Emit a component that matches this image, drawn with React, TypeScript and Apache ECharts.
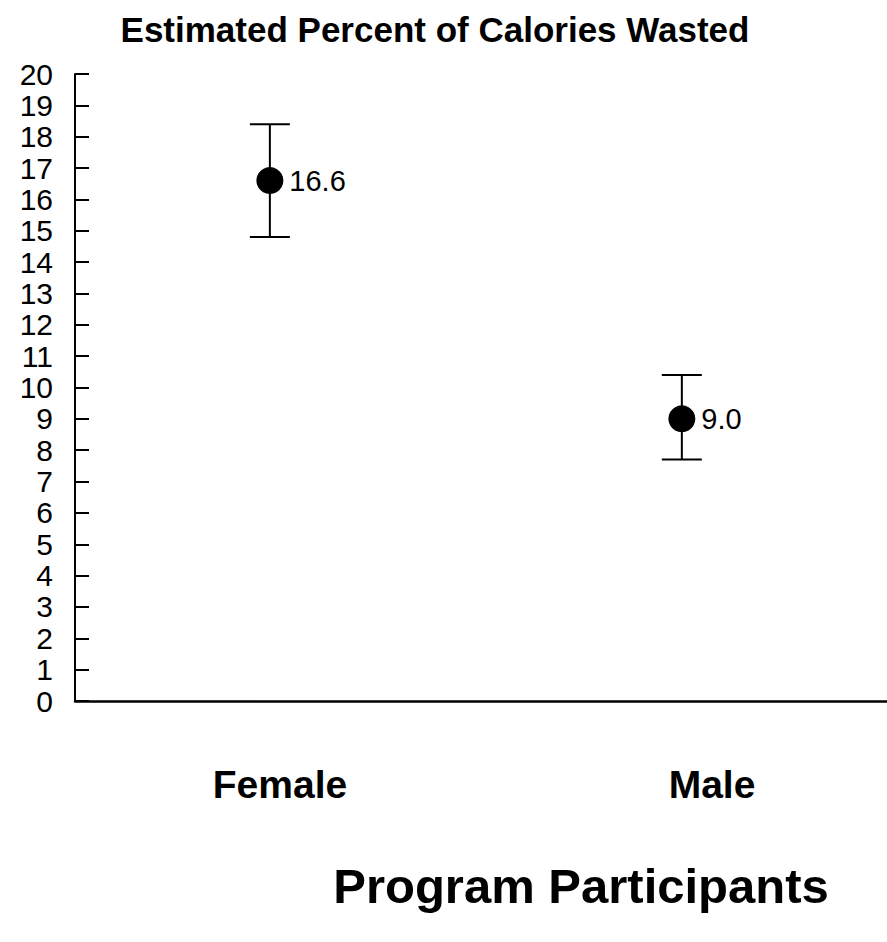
import React, { useEffect, useRef } from "react";
import * as echarts from "echarts";

// Group labels and the estimated percent of calories wasted, with interval bounds
const categories = ["Female", "Male"];
const means = [16.6, 9.0];
const upperBounds = [18.4, 10.4];
const lowerBounds = [14.8, 7.7];

const FONT = "'Liberation Sans', Arial, Helvetica, sans-serif";

export default function App() {
  const ref = useRef<HTMLDivElement>(null);

  useEffect(() => {
    if (!ref.current) return;
    const chart = echarts.init(ref.current, undefined, { renderer: "svg" });

    const pointData = means.map((v, i) => [i, v]);
    const barData = categories.map((_, i) => [i, lowerBounds[i], upperBounds[i]]);

    chart.setOption({
      animation: false,
      backgroundColor: "#ffffff",
      textStyle: { fontFamily: FONT, color: "#000" },
      grid: { left: 75, right: 0, top: 74, bottom: 241, containLabel: false },
      xAxis: {
        type: "value",
        min: -0.473,
        max: 1.498,
        axisLine: { show: true, onZero: false, lineStyle: { color: "#000", width: 2.5 } },
        axisTick: { show: false },
        axisLabel: { show: false },
        splitLine: { show: false },
      },
      yAxis: {
        type: "value",
        min: 0,
        max: 20,
        interval: 1,
        axisLine: { show: true, onZero: false, lineStyle: { color: "#000", width: 2 } },
        axisTick: {
          show: true,
          inside: true,
          length: 14,
          lineStyle: { color: "#000", width: 2 },
        },
        axisLabel: {
          color: "#000",
          fontSize: 30,
          lineHeight: 28,
          fontFamily: FONT,
          margin: 22,
          showMinLabel: true,
          showMaxLabel: true,
          hideOverlap: false,
        },
        splitLine: { show: false },
      },
      series: [
        {
          type: "custom",
          data: barData,
          z: 2,
          renderItem: (params: any, api: any) => {
            const x = api.value(0);
            const lo = api.coord([x, api.value(1)]);
            const hi = api.coord([x, api.value(2)]);
            const half = 20;
            const style = { stroke: "#000", lineWidth: 2 };
            return {
              type: "group",
              children: [
                { type: "line", shape: { x1: lo[0], y1: lo[1], x2: hi[0], y2: hi[1] }, style },
                { type: "line", shape: { x1: hi[0] - half, y1: hi[1], x2: hi[0] + half, y2: hi[1] }, style },
                { type: "line", shape: { x1: lo[0] - half, y1: lo[1], x2: lo[0] + half, y2: lo[1] }, style },
              ],
            };
          },
        },
        {
          type: "scatter",
          data: pointData,
          z: 3,
          symbol: "circle",
          symbolSize: 27,
          itemStyle: { color: "#000", opacity: 1 },
          label: {
            show: true,
            position: "right",
            distance: 6,
            fontSize: 29,
            fontFamily: FONT,
            color: "#000",
            opacity: 1,
            formatter: (p: any) => Number(p.value[1]).toFixed(1),
          },
        },
      ],
      graphic: [
        {
          type: "text",
          x: 435,
          y: 29,
          style: {
            text: "Estimated Percent of Calories Wasted",
            font: `bold 35px ${FONT}`,
            fill: "#000",
            align: "center",
            verticalAlign: "middle",
          },
        },
        {
          type: "text",
          x: 280,
          y: 784,
          style: {
            text: categories[0],
            font: `bold 39px ${FONT}`,
            fill: "#000",
            align: "center",
            verticalAlign: "middle",
          },
        },
        {
          type: "text",
          x: 712,
          y: 784,
          style: {
            text: categories[1],
            font: `bold 39px ${FONT}`,
            fill: "#000",
            align: "center",
            verticalAlign: "middle",
          },
        },
        {
          type: "text",
          x: 581,
          y: 886,
          style: {
            text: "Program Participants",
            font: `bold 49px ${FONT}`,
            fill: "#000",
            align: "center",
            verticalAlign: "middle",
          },
        },
      ],
    });

    return () => chart.dispose();
  }, []);

  return (
    <div
      ref={ref}
      style={{ position: "absolute", left: 0, top: 0, width: 887, height: 942 }}
    />
  );
}
